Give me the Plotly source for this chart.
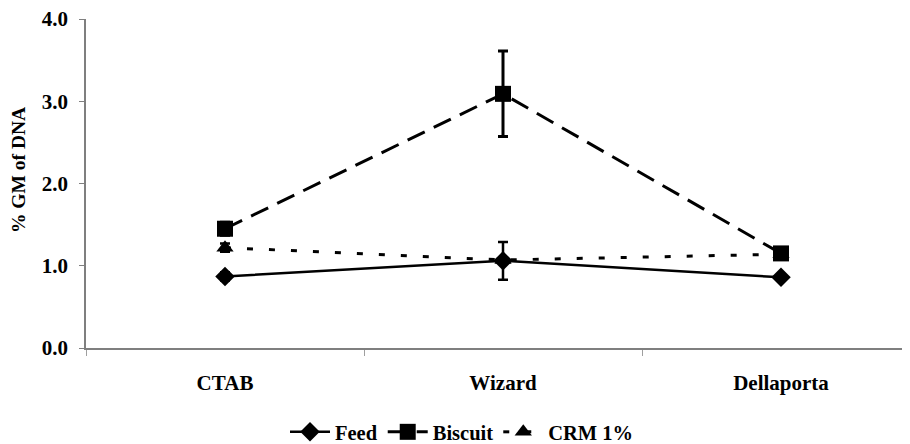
import plotly.graph_objects as go

categories = ["CTAB", "Wizard", "Dellaporta"]
feed = [0.87, 1.06, 0.86]
feed_err = [0.05, 0.23, 0.02]
biscuit = [1.45, 3.09, 1.15]
biscuit_err = [0.08, 0.52, 0.03]
crm = [1.22, 1.07, 1.14]
crm_err = [0.05, 0.03, 0.03]
y_ticks = [0.0, 1.0, 2.0, 3.0, 4.0]

FONT = dict(family="Liberation Serif, Times New Roman, serif", size=21, color="black", weight="bold")

# page body has an 8px margin; figure is sized/offset to compensate
W, H = 902, 436
L, T, B = 78, 11, 96
PW, PH = W - L, H - T - B

fig = go.Figure()
fig.add_trace(go.Scatter(
    x=categories, y=feed, name="Feed", mode="lines+markers", legendrank=1,
    line=dict(color="black", width=2.5),
    marker=dict(symbol="diamond", size=15, color="black"),
    error_y=dict(type="data", array=feed_err, color="black", thickness=2.5, width=5),
))
fig.add_trace(go.Scatter(
    x=categories, y=crm, name="CRM 1%", mode="lines+markers", legendrank=3,
    line=dict(color="black", width=3, dash="6px,16px"),
    marker=dict(symbol="triangle-up", size=15, color="black"),
    error_y=dict(type="data", array=crm_err, color="black", thickness=2.5, width=5),
))
fig.add_trace(go.Scatter(
    x=categories, y=biscuit, name="Biscuit", mode="lines+markers", legendrank=2,
    line=dict(color="black", width=3, dash="19px,10px"),
    marker=dict(symbol="square", size=16, color="black"),
    error_y=dict(type="data", array=biscuit_err, color="black", thickness=3, width=5),
))

fig.update_layout(
    width=W, height=H,
    margin=dict(l=L, r=0, t=T, b=B),
    paper_bgcolor="white", plot_bgcolor="white",
    font=FONT,
    showlegend=True,
    legend=dict(orientation="h", x=454 / W, xanchor="center", xref="container",
                y=12 / H, yanchor="middle", yref="container",
                font=dict(FONT, size=20.5), itemwidth=40),
    annotations=[dict(text="% GM of DNA", textangle=-90, xref="paper", yref="paper",
                      x=(10 - L) / PW, y=(T + PH - 162) / PH, showarrow=False,
                      font=dict(FONT, size=19.5), xanchor="center", yanchor="middle")],
)
fig.update_xaxes(
    type="category", range=[-0.5, 2.464], automargin=False,
    showline=True, linecolor="#7f7f7f", linewidth=1.5,
    ticks="outside", tickson="boundaries", ticklen=6, tickcolor="#9f9f9f",
    ticklabelstandoff=15, showgrid=False, zeroline=False,
    tickfont=FONT, ticklabeloverflow="allow",
)
fig.update_yaxes(
    range=[0, 4], tickvals=y_ticks, tickformat=".1f", automargin=False,
    showline=True, linecolor="#7f7f7f", linewidth=1.5,
    ticks="outside", ticklen=5, tickcolor="#7f7f7f",
    ticklabelstandoff=7, showgrid=False, zeroline=False,
    tickfont=FONT, ticklabeloverflow="allow",
)

fig.write_html("out.html")
